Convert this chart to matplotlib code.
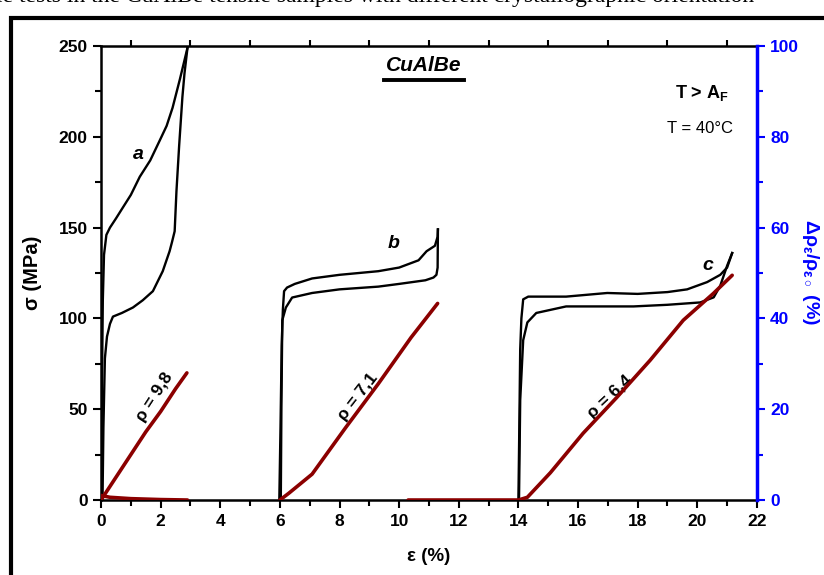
import matplotlib
matplotlib.use("Agg")
import matplotlib.pyplot as plt
from matplotlib.patches import Rectangle
from matplotlib.ticker import MultipleLocator

plt.rcParams['font.family'] = ['Liberation Sans', 'DejaVu Sans']
plt.rcParams['mathtext.fontset'] = 'custom'
plt.rcParams['mathtext.rm'] = 'Liberation Sans'
plt.rcParams['mathtext.it'] = 'Liberation Sans:italic'
plt.rcParams['mathtext.bf'] = 'Liberation Sans:bold'

# Data
# curve a (stress, MPa)
a_load_x = [0.0, 0.03, 0.06, 0.1, 0.18, 0.3, 0.5, 0.73, 1.0, 1.3, 1.65, 1.97, 2.2, 2.4, 2.65, 2.9]
a_load_y = [0, 60, 110, 135, 146, 150, 155, 161, 168, 178, 187, 198, 206, 216, 232, 249]
a_unload_x = [2.9, 2.8, 2.73, 2.62, 2.53, 2.47, 2.38, 2.3, 2.07, 1.74, 1.4, 1.07, 0.7, 0.4, 0.3, 0.2, 0.13, 0.08, 0.05]
a_unload_y = [249, 235, 222, 195, 170, 148, 142, 137, 126, 115, 110, 106, 103, 101, 97, 90, 78, 40, 0]
# curve b
b_load_x = [5.98, 6.02, 6.06, 6.1, 6.14, 6.24, 6.5, 7.08, 8.0, 9.3, 10.0, 10.65, 10.92, 11.2, 11.29, 11.3]
b_load_y = [0, 40, 85, 105, 115, 117, 119, 122, 124, 126, 128, 132, 137, 140, 145, 149]
b_unload_x = [11.3, 11.29, 11.25, 11.15, 10.88, 10.0, 9.3, 8.0, 7.08, 6.41, 6.2, 6.08, 6.05, 6.03]
b_unload_y = [149, 128, 124, 122.5, 121, 119, 117.5, 116, 114, 111.5, 106, 99, 50, 0]
# curve c
c_load_x = [14.0, 14.03, 14.06, 14.1, 14.16, 14.33, 15.0, 15.6, 16.98, 18.0, 19.0, 19.66, 20.33, 20.77, 21.0, 21.17]
c_load_y = [0, 40, 83, 100, 110.5, 112, 112, 112, 114, 113.5, 114.5, 116, 120, 124, 128, 136]
c_unload_x = [21.17, 21.0, 20.77, 20.55, 20.1, 19.0, 17.86, 15.6, 14.6, 14.3, 14.16, 14.06, 14.02]
c_unload_y = [136, 129, 118, 111.6, 108.8, 107.5, 106.6, 106.6, 103, 97.8, 88, 55, 0]

# resistivity change (%)
a_rho_x = [0.0, 0.3, 0.6, 1.0, 1.5, 2.0, 2.5, 2.88]
a_rho_y = [0, 3, 6, 10, 15, 19.5, 24.5, 28]
a_rho_back_x = [2.9, 2.0, 1.0, 0.3, 0.0]
a_rho_back_y = [0, 0.1, 0.3, 0.6, 1.0]
b_rho_x = [6.0, 6.3, 7.08, 8.2, 9.3, 10.4, 11.29]
b_rho_y = [0, 1.5, 5.7, 15.9, 25.6, 35.8, 43.3]
c_rho_x = [10.3, 14.0, 14.3, 15.07, 16.17, 17.3, 18.42, 19.53, 20.54, 21.17]
c_rho_y = [0, 0, 0.6, 6, 14.7, 22.6, 30.8, 39.6, 45.5, 49.5]

x_ticks = [0, 2, 4, 6, 8, 10, 12, 14, 16, 18, 20, 22]
y_ticks = [0, 50, 100, 150, 200, 250]
y2_ticks = [0, 20, 40, 60, 80, 100]

black = 'black'
red = '#8B0000'
blue = '#0000FF'

fig = plt.figure(figsize=(8.24, 5.75), dpi=100)
ax = fig.add_axes([0.1226, 0.1304, 0.796, 0.7896])
ax2 = ax.twinx()

# page text cut at the top and frame around the figure
fig.text(-0.005, 1.006, "le tests in the CuAlBe tensile samples with different crystallographic orientation",
         family='Liberation Serif', fontsize=17, ha='left', va='center')
fig.patches.append(Rectangle((10.5 / 824, -0.1), 1.2, 1.1 - 17.5 / 575, transform=fig.transFigure,
                             fill=False, lw=3, ec='black'))

for xs, ys in [(a_load_x, a_load_y), (a_unload_x, a_unload_y),
               (b_load_x, b_load_y), (b_unload_x, b_unload_y),
               (c_load_x, c_load_y), (c_unload_x, c_unload_y)]:
    ax.plot(xs, ys, color=black, lw=1.7, zorder=3)

for xs, ys in [(a_rho_x, a_rho_y), (a_rho_back_x, a_rho_back_y),
               (b_rho_x, b_rho_y), (c_rho_x, c_rho_y)]:
    ax2.plot(xs, ys, color=red, lw=2.6, solid_capstyle='round')

ax.set_xlim(0, 22)
ax.set_ylim(0, 250)
ax2.set_ylim(0, 100)

ax.set_xticks(x_ticks)
ax.set_yticks(y_ticks)
ax2.set_yticks(y2_ticks)
ax.xaxis.set_minor_locator(MultipleLocator(1))
ax.yaxis.set_minor_locator(MultipleLocator(25))
ax2.yaxis.set_minor_locator(MultipleLocator(10))

ax.tick_params(axis='x', which='major', direction='out', length=6, width=1.5, labelsize=12.5, pad=4)
ax.tick_params(axis='x', which='minor', direction='out', length=4, width=1.5)
ax.tick_params(axis='x', which='minor', top=True)
ax.tick_params(axis='y', which='major', direction='out', length=6, width=1.5, labelsize=12.5, right=False)
ax.tick_params(axis='y', which='minor', direction='out', length=4, width=1.5, right=False)
ax2.tick_params(axis='y', which='major', direction='out', length=6, width=1.5, labelsize=12.5,
                colors=blue)
ax2.tick_params(axis='y', which='minor', direction='out', length=4, width=1.5, colors=blue)

for lab in ax.get_xticklabels() + ax.get_yticklabels() + ax2.get_yticklabels():
    lab.set_fontweight('bold')

for s in ['left', 'bottom', 'top']:
    ax.spines[s].set_linewidth(1.8)
ax2.spines['right'].set_color(blue)
ax2.spines['right'].set_linewidth(2.5)
for s in ['left', 'bottom', 'top']:
    ax2.spines[s].set_visible(False)
ax.spines['right'].set_visible(False)

ax.set_xlabel('ε (%)', fontsize=13.5, fontweight='bold', labelpad=14)
ax.set_ylabel('σ (MPa)', fontsize=14.5, fontweight='bold', labelpad=12)
fig.text(810 / 824, 1 - 272 / 575,
         r'$\mathbf{\Delta\rho_\varepsilon/\rho_{\varepsilon\circ}}$ (%)', fontsize=14,
         fontweight='bold', color=blue, rotation=270, ha='center', va='center')

# annotations
ax.text(0.492, 0.956, 'CuAlBe', transform=ax.transAxes, fontsize=15, fontweight='bold',
        style='italic', ha='center', va='center')
ax.plot([0.432, 0.553], [0.926, 0.926], transform=ax.transAxes, color='black', lw=2.8,
        clip_on=False)
ax.text(0.958, 0.896, r'T > A$_\mathbf{F}$', transform=ax.transAxes, fontsize=13,
        fontweight='bold', ha='right', va='center')
ax.text(0.963, 0.819, 'T = 40°C', transform=ax.transAxes, fontsize=12, ha='right', va='center')

ax.text(1.24, 190, 'a', fontsize=14, fontweight='bold', style='italic', ha='center', va='center')
ax.text(9.8, 141, 'b', fontsize=14, fontweight='bold', style='italic', ha='center', va='center')
ax.text(20.37, 129, 'c', fontsize=14, fontweight='bold', style='italic', ha='center', va='center')

ax.text(1.81, 57, 'ρ = 9,8', fontsize=12.5, fontweight='bold', rotation=57, ha='center', va='center')
ax.text(8.62, 57, 'ρ = 7,1', fontsize=12.5, fontweight='bold', rotation=52, ha='center', va='center')
ax.text(17.08, 57, 'ρ = 6,4', fontsize=12.5, fontweight='bold', rotation=43, ha='center', va='center')

fig.savefig('out.png', dpi=100)
